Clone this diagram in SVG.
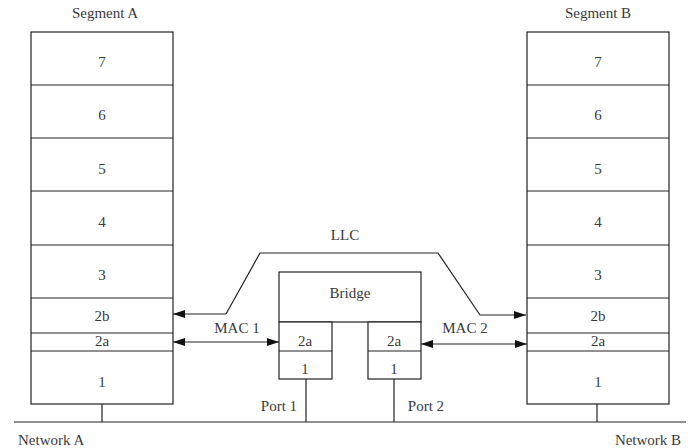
<svg xmlns="http://www.w3.org/2000/svg" width="688" height="448" viewBox="0 0 688 448">
<style>
.box{fill:#fff;stroke:#222;stroke-width:1.2}
.ln{fill:none;stroke:#222;stroke-width:1.2}
text{font-family:"Liberation Serif","Times New Roman",serif;font-size:15px;fill:#3a3a3a;text-anchor:middle}
.l{text-anchor:start}
</style>
<defs>
<marker id="ah" viewBox="0 0 12 8" refX="12" refY="4" markerWidth="12" markerHeight="8" markerUnits="userSpaceOnUse" orient="auto-start-reverse">
<path d="M0,0 L12,4 L0,8 Z" fill="#111"/>
</marker>
</defs>
<rect width="688" height="448" fill="#fff"/>
<g id="segmentA">
<text x="105" y="18">Segment A</text>
<rect class="box" x="31" y="32" width="142" height="372"/>
<path class="ln" d="M31,85H173M31,138H173M31,191H173M31,245H173M31,298H173M31,333H173M31,351H173"/>
<text x="102" y="67">7</text>
<text x="102" y="120">6</text>
<text x="102" y="174">5</text>
<text x="102" y="227">4</text>
<text x="102" y="280">3</text>
<text x="102" y="321">2b</text>
<text x="102" y="346">2a</text>
<text x="102" y="387">1</text>
</g>
<g id="segmentB">
<text x="598" y="18">Segment B</text>
<rect class="box" x="527" y="32" width="142" height="372"/>
<path class="ln" d="M527,85H669M527,138H669M527,191H669M527,245H669M527,298H669M527,333H669M527,351H669"/>
<text x="598" y="67">7</text>
<text x="598" y="120">6</text>
<text x="598" y="174">5</text>
<text x="598" y="227">4</text>
<text x="598" y="280">3</text>
<text x="598" y="321">2b</text>
<text x="598" y="346">2a</text>
<text x="598" y="387">1</text>
</g>
<g id="bridge">
<rect class="box" x="279" y="272" width="142" height="50"/>
<text x="350" y="298">Bridge</text>
</g>
<g id="port1box">
<rect class="box" x="279" y="322" width="53" height="57"/>
<path class="ln" d="M279,351H332"/>
<text x="305" y="346">2a</text>
<text x="305" y="374">1</text>
</g>
<g id="port2box">
<rect class="box" x="368" y="322" width="53" height="57"/>
<path class="ln" d="M368,351H421"/>
<text x="394" y="346">2a</text>
<text x="394" y="374">1</text>
</g>
<g id="connectors">
<path class="ln" d="M14,422H686"/>
<path class="ln" d="M102,404V422M597,404V422M306,379V422M394,379V422"/>
<path class="ln" d="M226,314L260,253H438L480,315H526" marker-end="url(#ah)"/>
<path class="ln" d="M226,314H173" marker-end="url(#ah)"/>
<path class="ln" d="M173,342H279" marker-start="url(#ah)" marker-end="url(#ah)"/>
<path class="ln" d="M421,344H527" marker-start="url(#ah)" marker-end="url(#ah)"/>
</g>
<g id="labels">
<text x="345" y="240">LLC</text>
<text x="237" y="333">MAC 1</text>
<text x="465" y="333">MAC 2</text>
<text x="279" y="411">Port 1</text>
<text x="426" y="411">Port 2</text>
<text class="l" x="18" y="445">Network A</text>
<text x="648" y="445">Network B</text>
</g>
</svg>
